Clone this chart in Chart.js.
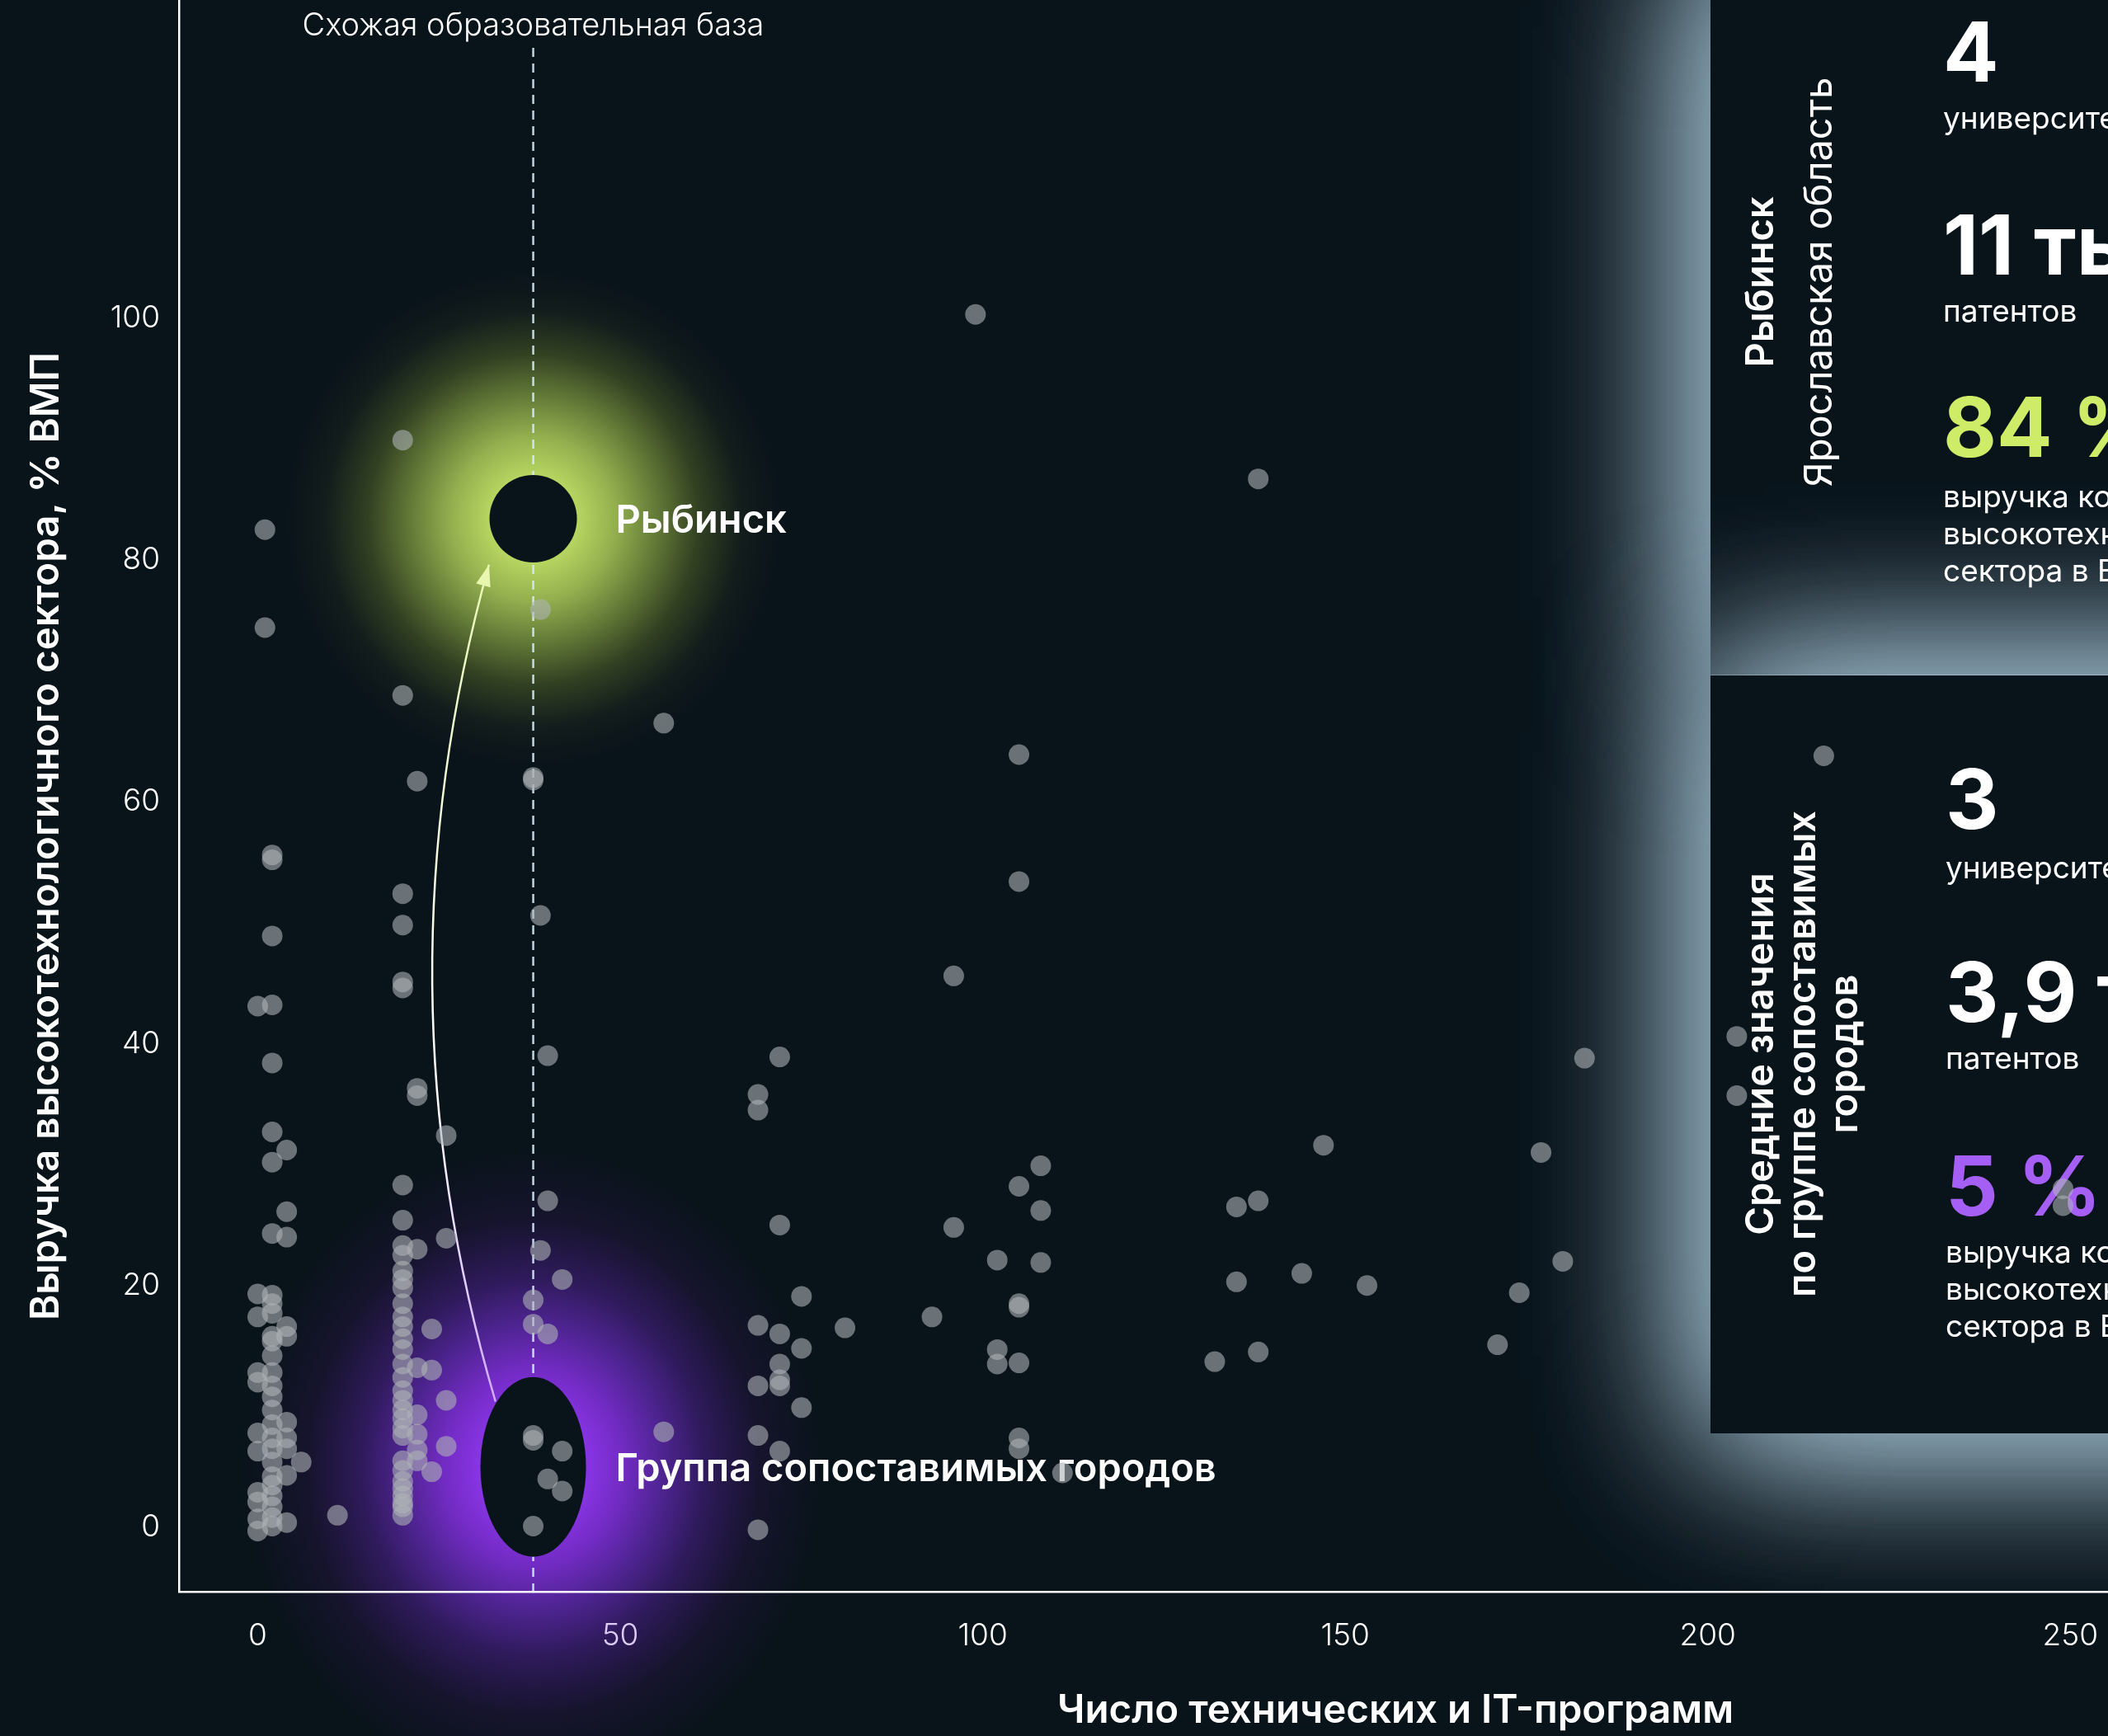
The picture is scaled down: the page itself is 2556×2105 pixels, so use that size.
<!DOCTYPE html>
<html lang="ru">
<head>
<meta charset="utf-8">
<title>Рыбинск и группа сопоставимых городов</title>
<script src="https://cdn.jsdelivr.net/npm/chart.js@4.4.1/dist/chart.umd.min.js"></script>
<style>
  html, body { margin: 0; padding: 0; background: #09131a; overflow: hidden; }
  #wrap { width: 2556px; height: 2105px; position: relative; }
</style>
</head>
<body>
<div id="wrap"><canvas id="myChart"></canvas></div>
<script>
/********************************************* Data ************************************************/

// число технических и IT-программ (ось X)
const cityPrograms = [
  0, 0, 0, 0, 0, 0, 0, 0, 0, 0, 0,
  1, 1,
  2, 2, 2, 2, 2, 2, 2, 2, 2, 2, 2, 2, 2, 2, 2, 2, 2, 2, 2, 2, 2, 2, 2, 2, 2, 2, 2, 2,
  4, 4, 4, 4, 4, 4, 4, 4, 4, 4,
  6, 11,
  20, 20, 20, 20, 20, 20, 20, 20, 20, 20, 20, 20, 20, 20, 20, 20, 20, 20, 20, 20, 20, 20, 20, 20, 20, 20, 20,
  20, 20, 20, 20, 20, 20, 20,
  22, 22, 22, 22, 22, 22, 22, 22, 22,
  24, 24, 24,
  26, 26, 26, 26,
  38, 38, 38, 38, 38, 38, 38,
  39, 39, 39,
  40, 40, 40, 40,
  42, 42, 42,
  56, 56,
  69, 69, 69, 69, 69, 69,
  72, 72, 72, 72, 72, 72, 72,
  75, 75, 75,
  81, 93, 96, 96, 99,
  102, 102, 102,
  105, 105, 105, 105, 105, 105, 105, 105,
  108, 108, 108,
  111, 132, 135, 135, 138, 138, 138, 144, 147, 153,
  171, 174, 177, 180, 183,
  204, 204, 216, 249, 249
];

// выручка высокотехнологичного сектора, % ВМП (ось Y)
const cityRevenue = [
  19.3, 17.4, 12.8, 12.0, 7.8, 6.3, 2.9, 2.1, 0.7, -0.3, 43.1,
  82.5, 74.4,
  55.6, 55.2, 48.9, 43.2, 38.4, 32.7, 30.2, 24.3, 19.2, 18.5, 17.7, 15.8, 15.4, 14.2, 12.8, 11.7, 10.8, 9.7, 8.5, 7.4, 6.5, 5.4, 4.2, 3.5, 2.6, 1.7, 0.8, 0.1,
  31.2, 26.1, 24.0, 16.6, 15.8, 8.7, 7.4, 6.5, 4.3, 0.4,
  5.4, 1.0,
  89.9, 68.8, 52.4, 49.8, 45.1, 44.6, 28.3, 25.4, 22.5, 21.2, 20.5, 19.8, 18.5, 17.4, 16.6, 15.6, 14.7, 13.5, 11.3, 9.7, 9.0, 7.6, 4.7, 3.8, 2.6, 1.7, 1.0,
  23.3, 12.4, 10.5, 8.2, 5.5, 3.2, 2.0,
  61.7, 36.3, 35.7, 23.0, 13.2, 9.3, 7.7, 6.4, 5.5,
  16.4, 13.0, 4.6,
  32.4, 23.9, 10.5, 6.7,
  62.0, 61.8, 18.8, 16.8, 7.6, 7.2, 0.1,
  75.9, 50.6, 22.9,
  39.0, 27.0, 16.0, 4.0,
  20.5, 6.3, 3.0,
  66.5, 7.9,
  35.8, 34.5, 16.7, 11.7, 7.6, -0.2,
  38.9, 25.0, 16.0, 13.5, 12.2, 11.7, 6.3,
  19.1, 14.8, 9.9,
  16.5, 17.4, 45.6, 24.8, 100.3,
  22.1, 14.7, 13.5,
  63.9, 53.4, 28.2, 18.5, 18.2, 13.6, 7.4, 6.5,
  29.9, 26.2, 21.9,
  4.5, 13.7, 26.5, 20.3, 86.7, 27.0, 14.5, 21.0, 31.6, 20.0,
  15.1, 19.4, 31.0, 22.0, 38.8,
  40.6, 35.7, 63.8, 28.0, 26.6
];

const xTicks = [0, 50, 100, 150, 200, 250];
const yTicks = [0, 20, 40, 60, 80, 100];

// выделенные точки: Рыбинск и среднее по группе
const highlightNames = ['Рыбинск', 'Группа сопоставимых городов'];
const highlightX = [38, 38];
const highlightY = [83.4, 5];

// линия «Схожая образовательная база»
const similarBaseX = 38;
const similarBaseLabel = 'Схожая образовательная база';

// стрелка от группы к Рыбинску (начало, контрольная точка, конец)
const arrowX = [32.8, 15.8, 31.9];
const arrowY = [10.4, 44.9, 79.6];

const xTitle = 'Число технических и IT-программ';
const yTitle = 'Выручка высокотехнологичного сектора, % ВМП';

// панели справа
const rybinskTitle = ['Рыбинск', 'Ярославская область'];
const rybinskValues = ['4', '11 тыс.', '84 %'];
const rybinskCaptions = [['университетов'], ['патентов'], ['выручка компаний', 'высокотехнологичного', 'сектора в ВМП']];
const groupTitle = ['Средние значения', 'по группе сопоставимых', 'городов'];
const groupValues = ['3', '3,9 тыс.', '5 %'];
const groupCaptions = [['университетов'], ['патентов'], ['выручка компаний', 'высокотехнологичного', 'сектора в ВМП']];

/********************************************* Styles ************************************************/

const BG = '#09131a';
const FONT = 'Inter, "Noto Sans", sans-serif';
const GREEN = '#cfec68';
const PURPLE = '#a55ff5';

let points = cityPrograms.map((x, i) => ({ x: x, y: cityRevenue[i] }));

/********************************************* Drawing helpers ************************************************/

function drawGlow(ctx, cx, cy, r, sy, stops) {
  ctx.save();
  ctx.translate(cx, cy);
  ctx.scale(1, sy);
  let g = ctx.createRadialGradient(0, 0, 0, 0, 0, r);
  stops.forEach(s => g.addColorStop(s[0], s[1]));
  ctx.fillStyle = g;
  ctx.fillRect(-r, -r, 2 * r, 2 * r);
  ctx.restore();
}

function drawPanel(ctx, x, y, w, h) {
  ctx.save();
  ctx.shadowColor = 'rgba(165,195,212,1)';
  ctx.shadowBlur = 190;
  ctx.fillStyle = BG;
  ctx.fillRect(x, y, w, h);
  ctx.fillRect(x, y, w, h);
  ctx.restore();
}

function verticalText(ctx, lines, xs, cy, weight, size) {
  ctx.save();
  ctx.font = weight + ' ' + size + 'px ' + FONT;
  ctx.fillStyle = '#ffffff';
  ctx.textAlign = 'center';
  ctx.textBaseline = 'alphabetic';
  lines.forEach((t, i) => {
    ctx.save();
    ctx.translate(xs[i], cy);
    ctx.rotate(-Math.PI / 2);
    ctx.fillText(t, 0, 0);
    ctx.restore();
  });
  ctx.restore();
}

function statBlock(ctx, x, values, captions, baselines, accent) {
  ctx.save();
  ctx.textAlign = 'left';
  ctx.textBaseline = 'alphabetic';
  values.forEach((v, i) => {
    ctx.font = '700 100px ' + FONT;
    ctx.fillStyle = i === 2 ? accent : '#ffffff';
    ctx.fillText(v, x, baselines[i][0]);
    ctx.font = '400 37px ' + FONT;
    ctx.fillStyle = '#ffffff';
    captions[i].forEach((c, j) => ctx.fillText(c, x, baselines[i][1] + j * 45));
  });
  ctx.restore();
}

/********************************************* Plugin ************************************************/

const decor = {
  id: 'decor',
  beforeDraw(chart) {
    const ctx = chart.ctx;
    const xs = chart.scales.x, ys = chart.scales.y;
    ctx.save();
    ctx.fillStyle = BG;
    ctx.fillRect(0, 0, chart.width, chart.height);
    ctx.restore();

    // свечение вокруг Рыбинска
    drawGlow(ctx, xs.getPixelForValue(highlightX[0]), ys.getPixelForValue(highlightY[0]), 300, 1, [
      [0, 'rgba(200,232,108,1)'], [0.18, 'rgba(182,212,96,1)'], [0.33, 'rgba(148,176,79,1)'],
      [0.5, 'rgba(98,121,55,1)'], [0.67, 'rgba(50,64,34,1)'], [0.84, 'rgba(19,29,28,1)'], [1, 'rgba(9,19,26,1)']
    ]);
    // свечение вокруг группы
    drawGlow(ctx, xs.getPixelForValue(highlightX[1]), ys.getPixelForValue(highlightY[1]), 350, 1.1, [
      [0, 'rgba(140,55,235,1)'], [0.19, 'rgba(136,52,228,1)'], [0.31, 'rgba(114,43,195,1)'],
      [0.45, 'rgba(78,36,145,1)'], [0.6, 'rgba(46,26,90,1)'], [0.78, 'rgba(22,20,45,1)'], [1, 'rgba(9,19,26,1)']
    ]);
  },
  beforeDatasetsDraw(chart) {
    const ctx = chart.ctx;
    const a = chart.chartArea;
    const xs = chart.scales.x, ys = chart.scales.y;

    // панели справа
    ctx.save();
    ctx.beginPath();
    ctx.rect(a.left, a.top, a.right - a.left, a.bottom - a.top);
    ctx.clip();
    drawPanel(ctx, 2074, -60, 700, 878);
    drawPanel(ctx, 2074, 819, 700, 919);
    ctx.restore();

    verticalText(ctx, rybinskTitle.slice(0, 1), [2150], 342, 600, 47);
    verticalText(ctx, rybinskTitle.slice(1), [2221], 342, 400, 47);
    statBlock(ctx, 2356, rybinskValues, rybinskCaptions, [[99, 156], [333, 390], [554, 615]], GREEN);

    verticalText(ctx, groupTitle, [2150, 2201, 2252], 1278, 600, 47);
    statBlock(ctx, 2359, groupValues, groupCaptions, [[1005, 1065], [1239, 1296], [1474, 1531]], PURPLE);

    // пунктир «Схожая образовательная база»
    const bx = xs.getPixelForValue(similarBaseX);
    ctx.save();
    ctx.strokeStyle = 'rgba(210,236,248,0.9)';
    ctx.lineWidth = 2.5;
    ctx.setLineDash([11, 8]);
    ctx.beginPath();
    ctx.moveTo(bx, 58);
    ctx.lineTo(bx, a.bottom);
    ctx.stroke();
    ctx.restore();

    ctx.save();
    ctx.font = '300 38px ' + FONT;
    ctx.fillStyle = '#ffffff';
    ctx.textAlign = 'center';
    ctx.textBaseline = 'middle';
    ctx.fillText(similarBaseLabel, bx, 32);
    ctx.restore();

    // стрелка
    const sx = xs.getPixelForValue(arrowX[0]), sy = ys.getPixelForValue(arrowY[0]);
    const cx = xs.getPixelForValue(arrowX[1]), cy = ys.getPixelForValue(arrowY[1]);
    const ex = xs.getPixelForValue(arrowX[2]), ey = ys.getPixelForValue(arrowY[2]);
    ctx.save();
    let lg = ctx.createLinearGradient(0, sy, 0, ey);
    lg.addColorStop(0, 'rgba(205,170,255,1)');
    lg.addColorStop(0.35, 'rgba(255,255,255,1)');
    lg.addColorStop(1, 'rgba(235,248,185,1)');
    ctx.strokeStyle = lg;
    ctx.lineWidth = 2.5;
    ctx.beginPath();
    ctx.moveTo(sx, sy);
    ctx.quadraticCurveTo(cx, cy, ex, ey);
    ctx.stroke();
    const ang = Math.atan2(ey - cy, ex - cx);
    ctx.translate(ex, ey);
    ctx.rotate(ang);
    ctx.fillStyle = 'rgb(232,246,175)';
    ctx.beginPath();
    ctx.moveTo(0, 0);
    ctx.lineTo(-26, -9);
    ctx.lineTo(-26, 9);
    ctx.closePath();
    ctx.fill();
    ctx.restore();

    // тёмные маркеры
    ctx.save();
    ctx.fillStyle = BG;
    ctx.beginPath();
    ctx.arc(xs.getPixelForValue(highlightX[0]), ys.getPixelForValue(highlightY[0]), 53, 0, Math.PI * 2);
    ctx.fill();
    ctx.beginPath();
    ctx.ellipse(xs.getPixelForValue(highlightX[1]), ys.getPixelForValue(highlightY[1]), 64, 109, 0, 0, Math.PI * 2);
    ctx.fill();
    ctx.restore();

    // подписи
    ctx.save();
    ctx.font = '600 47px ' + FONT;
    ctx.fillStyle = '#ffffff';
    ctx.textAlign = 'left';
    ctx.textBaseline = 'middle';
    highlightNames.forEach((n, i) => {
      ctx.fillText(n, xs.getPixelForValue(highlightX[i]) + 100, ys.getPixelForValue(highlightY[i]) + 3);
    });
    ctx.restore();
  },
  afterDraw(chart) {
    const ctx = chart.ctx;
    ctx.save();
    ctx.font = '600 47.5px ' + FONT;
    ctx.fillStyle = '#ffffff';
    ctx.textAlign = 'center';
    ctx.textBaseline = 'middle';
    ctx.fillText(xTitle, 1692, 2075);
    ctx.translate(57, 1014);
    ctx.rotate(-Math.PI / 2);
    ctx.fillText(yTitle, 0, 0);
    ctx.restore();
  }
};

/********************************************* Chart ************************************************/

new Chart('myChart', {
  type: 'scatter',
  data: {
    datasets: [{
      data: points,
      backgroundColor: 'rgba(174,179,181,0.6)',
      borderWidth: 0,
      pointRadius: 12.5,
      pointHoverRadius: 12.5
    }]
  },
  options: {
    responsive: true,
    maintainAspectRatio: false,
    animation: false,
    devicePixelRatio: 1,
    layout: { padding: 0, autoPadding: false },
    plugins: { legend: { display: false }, tooltip: { enabled: false } },
    scales: {
      x: {
        type: 'linear',
        min: -10.86,
        max: 255.2,
        grid: { display: false, drawTicks: false, tickLength: 0 },
        border: { display: true, color: '#ffffff', width: 2.5 },
        ticks: {
          // подпись «50» лежит на фиолетовом свечении
          color: c => (c.tick && c.tick.value === 50 ? '#dccbf2' : '#ffffff'),
          font: { family: FONT, size: 37, weight: 300 },
          padding: 32,
          maxRotation: 0
        },
        afterBuildTicks: s => { s.ticks = xTicks.map(v => ({ value: v })); },
        afterFit: s => { s.height = 175; s.paddingLeft = 0; s.paddingRight = 0; }
      },
      y: {
        type: 'linear',
        min: -5.32,
        max: 126.3,
        grid: { display: false, drawTicks: false, tickLength: 0 },
        border: { display: true, color: '#ffffff', width: 2.5 },
        ticks: { color: '#ffffff', font: { family: FONT, size: 37, weight: 300 }, padding: 23 },
        afterBuildTicks: s => { s.ticks = yTicks.map(v => ({ value: v })); },
        afterFit: s => { s.width = 217; s.paddingTop = 0; s.paddingBottom = 0; }
      }
    }
  },
  plugins: [decor]
});
</script>
</body>
</html>
